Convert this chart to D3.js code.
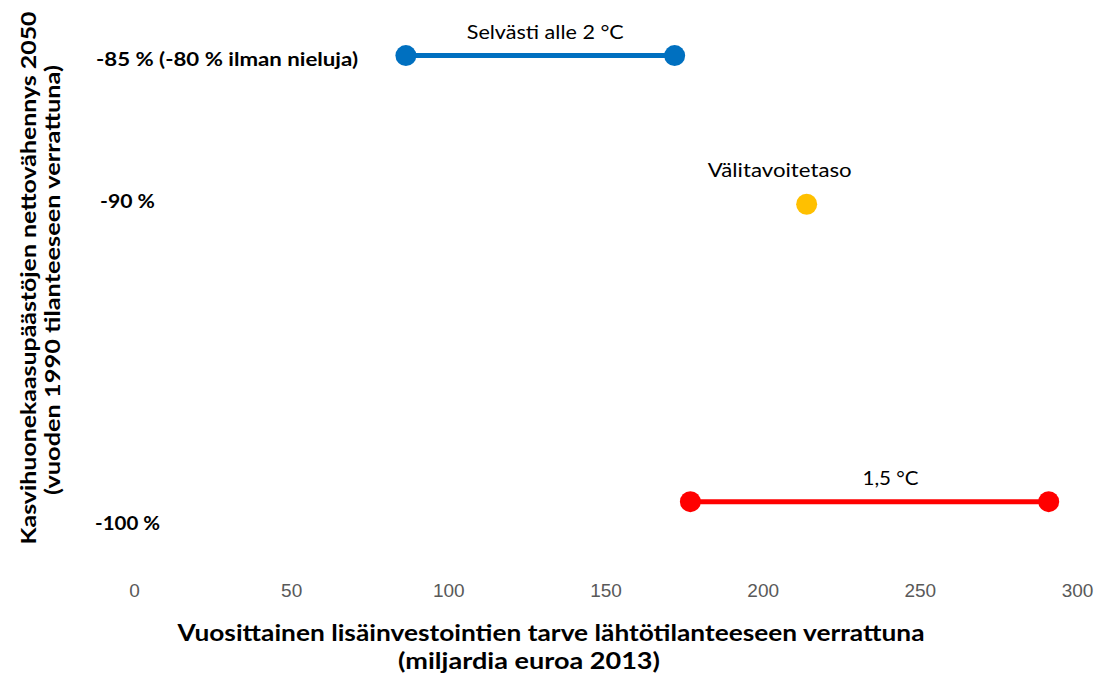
<!DOCTYPE html>
<meta charset="utf-8">
<head>
<style>
  body { margin: 0; background: #fff; }
  text { font-family: Lato, "Open Sans", sans-serif; }
  .tick text { font-family: "Liberation Sans Narrow", "Liberation Sans", sans-serif; }
</style>
</head>
<body>
<div id="chart"></div>
<script src="https://d3js.org/d3.v7.min.js"></script>
<script>
// data
var seriesNames = ["Selvästi alle 2 °C", "Välitavoitetaso", "1,5 °C"];
var seriesColors = ["#0070C0", "#FFC000", "#FF0000"];
var seriesX = [[86.5, 172], [214], [177, 291]];
var seriesY = [-85, -90, -100];
var yLabels = ["-85 % (-80 % ilman nieluja)", "-90 %", "-100 %"];
var xTicks = [0, 50, 100, 150, 200, 250, 300];
var xTitle = ["Vuosittainen lisäinvestointien tarve lähtötilanteeseen verrattuna", "(miljardia euroa 2013)"];
var yTitle = ["Kasvihuonekaasupäästöjen nettovähennys 2050", "(vuoden 1990 tilanteeseen verrattuna)"];

var W = 1104, H = 673;

var svg = d3.select("#chart")
  .append("svg")
    .attr("width", W)
    .attr("height", H);

var x = d3.scaleLinear()
  .domain([0, 300])
  .range([134, 1077]);

var y = d3.scaleLinear()
  .domain([-83.5, -102.5])
  .range([11, 576]);

// x axis - ticks only, no line
var xAxis = svg.append("g")
  .attr("transform", "translate(0,576)")
  .call(d3.axisBottom(x).tickValues(xTicks).tickSize(0).tickPadding(8).tickFormat(d3.format("d")));
xAxis.select(".domain").remove();
xAxis.selectAll("text")
  .attr("fill", "#595959")
  .style("font-size", "19px");

// axis titles (Calibri is wider than Lato, so stretch to the original width)
var xTitleW = [747, 262];
svg.append("text")
  .attr("x", 551).attr("y", 641)
  .attr("text-anchor", "middle")
  .attr("font-weight", "bold")
  .attr("textLength", xTitleW[0])
  .attr("lengthAdjust", "spacingAndGlyphs")
  .style("font-size", "22px")
  .text(xTitle[0]);
svg.append("text")
  .attr("x", 529).attr("y", 669)
  .attr("text-anchor", "middle")
  .attr("font-weight", "bold")
  .attr("textLength", xTitleW[1])
  .attr("lengthAdjust", "spacingAndGlyphs")
  .style("font-size", "22px")
  .text(xTitle[1]);

var yTitleW = [533, 430];
yTitle.forEach(function(t, i) {
  svg.append("text")
    .attr("transform", "translate(" + (36 + i * 24) + "," + (278 + i * 2) + ") rotate(-90)")
    .attr("text-anchor", "middle")
    .attr("font-weight", "bold")
    .attr("textLength", yTitleW[i])
    .attr("lengthAdjust", "spacingAndGlyphs")
    .style("font-size", "20px")
    .text(t);
});

// category labels on the left
var yLabelDy = [4, -3, 22];
var yLabelX = [96, 100, 95];
var yLabelW = [262, 55, 65];
svg.selectAll("yLabels")
  .data(yLabels)
  .enter()
  .append("text")
    .attr("x", function(d, i) { return yLabelX[i]; })
    .attr("y", function(d, i) { return y(seriesY[i]) + yLabelDy[i]; })
    .attr("dy", "0.35em")
    .attr("font-weight", "bold")
    .attr("textLength", function(d, i) { return yLabelW[i]; })
    .attr("lengthAdjust", "spacingAndGlyphs")
    .style("font-size", "19.5px")
    .text(function(d) { return d; });

// series: line + points
var series = seriesNames.map(function(n, i) {
  return { name: n, color: seriesColors[i], y: seriesY[i], values: seriesX[i].map(function(v) { return { x: v, y: seriesY[i] }; }) };
});

var line = d3.line()
  .x(function(d) { return x(d.x); })
  .y(function(d) { return y(d.y); });

svg.selectAll("myLines")
  .data(series.filter(function(s) { return s.values.length > 1; }))
  .enter()
  .append("path")
    .attr("d", function(d) { return line(d.values); })
    .attr("stroke", function(d) { return d.color; })
    .style("stroke-width", 5)
    .style("fill", "none");

svg.selectAll("myDots")
  .data(series)
  .enter()
  .append("g")
    .style("fill", function(d) { return d.color; })
  .selectAll("circle")
  .data(function(d) { return d.values; })
  .enter()
  .append("circle")
    .attr("cx", function(d) { return x(d.x); })
    .attr("cy", function(d) { return y(d.y); })
    .attr("r", 10.5);

// series labels
var labelDx = [5, -27, 21];
var labelDy = [-23, -34, -23];
var labelW = [157, 144, 56];
svg.selectAll("myLabels")
  .data(series)
  .enter()
  .append("text")
    .attr("x", function(d, i) { return x(d3.mean(d.values, function(v) { return v.x; })) + labelDx[i]; })
    .attr("y", function(d, i) { return y(d.y) + labelDy[i]; })
    .attr("dy", "0.35em")
    .attr("text-anchor", "middle")
    .attr("textLength", function(d, i) { return labelW[i]; })
    .attr("lengthAdjust", "spacingAndGlyphs")
    .style("font-size", "19.5px")
    .text(function(d) { return d.name; });
</script>
</body>
</html>
